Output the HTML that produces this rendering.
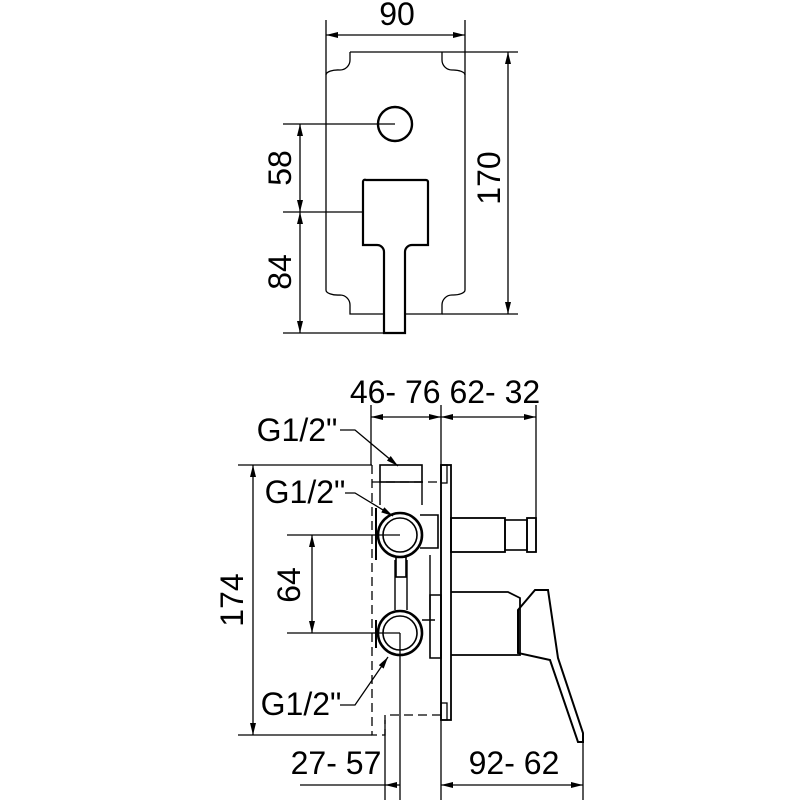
<!DOCTYPE html>
<html><head><style>body{margin:0;background:#fff}svg{display:block}</style></head><body>
<svg width="800" height="800" viewBox="0 0 800 800" xmlns="http://www.w3.org/2000/svg">
<defs>
<marker id="a" viewBox="0 0 12 6" refX="12" refY="3" markerWidth="12" markerHeight="6" orient="auto-start-reverse" markerUnits="userSpaceOnUse"><path d="M0,0L12,3L0,6z" fill="#000"/></marker>
</defs>
<g fill="none" stroke="#000" stroke-width="1.3" font-family="Liberation Sans, sans-serif">
<!-- TOP -->
<line x1="326" y1="20" x2="326" y2="290"/>
<line x1="465" y1="20" x2="465" y2="290"/>
<line x1="326" y1="35" x2="465" y2="35" marker-start="url(#a)" marker-end="url(#a)"/>
<path d="M350,52 H442 M442,52 v8 a10,10 0 0 0 10,10 a12,5 0 0 1 13,5 M350,52 v8 a10,10 0 0 1 -10,10 a12,5 0 0 0 -14,5 M326,290 a12,5 0 0 0 14,5 a10,10 0 0 1 10,10 v9 H384 M405,314 H442 v-9 a10,10 0 0 1 10,-10 a12,5 0 0 0 13,-5"/>
<line x1="442" y1="52" x2="518" y2="52"/>
<line x1="442" y1="314" x2="518" y2="314"/>
<line x1="508" y1="52" x2="508" y2="314" marker-start="url(#a)" marker-end="url(#a)"/>
<circle cx="395" cy="124" r="17" stroke-width="2.4"/>
<path d="M366,180 H426 a2,2 0 0 1 2,2 V245 H412 a7,7 0 0 0 -7,7 V333 H384 V252 a7,7 0 0 0 -7,-7 H363 V182 a2,2 0 0 1 3,-2z" stroke-width="2.2"/>
<line x1="283" y1="124" x2="395" y2="124"/>
<line x1="283" y1="212" x2="363" y2="212"/>
<line x1="283" y1="333" x2="384" y2="333"/>
<line x1="300" y1="124" x2="300" y2="212" marker-start="url(#a)" marker-end="url(#a)"/>
<line x1="300" y1="212" x2="300" y2="333" marker-start="url(#a)" marker-end="url(#a)"/>
<!-- BOTTOM dims -->
<line x1="371" y1="405" x2="371" y2="465"/>
<line x1="441" y1="405" x2="441" y2="800"/>
<line x1="536" y1="405" x2="536" y2="552"/>
<line x1="371" y1="417" x2="441" y2="417" marker-start="url(#a)" marker-end="url(#a)"/>
<line x1="441" y1="417" x2="536" y2="417" marker-start="url(#a)" marker-end="url(#a)"/>
<line x1="238" y1="465" x2="372" y2="465"/>
<line x1="238" y1="735" x2="372" y2="735"/>
<line x1="253" y1="465" x2="253" y2="735" marker-start="url(#a)" marker-end="url(#a)"/>
<line x1="287" y1="535" x2="400" y2="535"/>
<line x1="287" y1="633" x2="400" y2="633"/>
<line x1="312" y1="535" x2="312" y2="633" marker-start="url(#a)" marker-end="url(#a)"/>
<line x1="385" y1="720" x2="385" y2="800"/>
<line x1="400" y1="633" x2="400" y2="800"/>
<line x1="583" y1="740" x2="583" y2="800"/>
<line x1="300" y1="785" x2="385" y2="785"/>
<line x1="385" y1="785" x2="400" y2="785" marker-start="url(#a)"/>
<line x1="441" y1="785" x2="583" y2="785" marker-start="url(#a)" marker-end="url(#a)"/>
<!-- dashed box -->
<g stroke-dasharray="9,5">
<path d="M372,465 V735 H385 V715 H441"/>
<path d="M372,482 H441"/>
</g>
<!-- plate -->
<rect x="441" y="465" width="10" height="255" stroke-width="1.8"/>
<rect x="441" y="465" width="6" height="18"/><rect x="441" y="703" width="6" height="17"/>
<!-- body -->
<rect x="380" y="465" width="42" height="17" stroke-width="1.6"/>
<path d="M380,482 V505 M422,482 V505 M395,560 V610 M407,560 V610 M430,555 V610" stroke-width="1.4"/>
<path d="M420,515 H438 V548 H420" stroke-width="1.6"/>
<circle cx="400" cy="535" r="22" stroke-width="2.6"/><circle cx="400" cy="535" r="17" stroke-width="1.6"/>
<circle cx="400" cy="633" r="22" stroke-width="2.6"/><circle cx="400" cy="633" r="17" stroke-width="1.6"/>
<path d="M376,508 V560 M376,620 V648" stroke-width="2"/>
<rect x="396" y="557" width="10" height="20" stroke-width="1.6"/>
<path d="M422,620 H435 M430,595 H441 V658 H430z" stroke-width="1.6"/>
<!-- spout -->
<rect x="451" y="518" width="54" height="34" stroke-width="1.8"/>
<rect x="505" y="520" width="22" height="30" stroke-width="1.6"/>
<rect x="527" y="518" width="9" height="34" stroke-width="1.8"/>
<!-- handle -->
<path d="M451,592 H508 L520,598 V655 H451" stroke-width="1.8"/>
<path d="M518,610 L535,590 H548 L558,658 L583,733 V742 L578,742 L550,660 L518,653z" stroke-width="2"/>
<!-- leaders -->
<polyline points="340,430 355,430 398,466" marker-end="url(#a)"/>
<polyline points="345,493 355,493 393,516" marker-end="url(#a)"/>
<polyline points="340,705 355,705 388,657" marker-end="url(#a)"/>
</g>
<g font-family="Liberation Sans, sans-serif" font-size="32" fill="#000">
<text x="397" y="25" text-anchor="middle">90</text>
<text transform="translate(500,178) rotate(-90)" text-anchor="middle">170</text>
<text transform="translate(291,168) rotate(-90)" text-anchor="middle">58</text>
<text transform="translate(291,272) rotate(-90)" text-anchor="middle">84</text>
<text x="445" y="403" text-anchor="middle">46- 76 62- 32</text>
<text x="297" y="441" text-anchor="middle">G1/2"</text>
<text x="305" y="503" text-anchor="middle">G1/2"</text>
<text x="301" y="715" text-anchor="middle">G1/2"</text>
<text transform="translate(243,600) rotate(-90)" text-anchor="middle">174</text>
<text transform="translate(300,585) rotate(-90)" text-anchor="middle">64</text>
<text x="336" y="774" text-anchor="middle">27- 57</text>
<text x="514" y="774" text-anchor="middle">92- 62</text>
</g>
</svg>
</body></html>
